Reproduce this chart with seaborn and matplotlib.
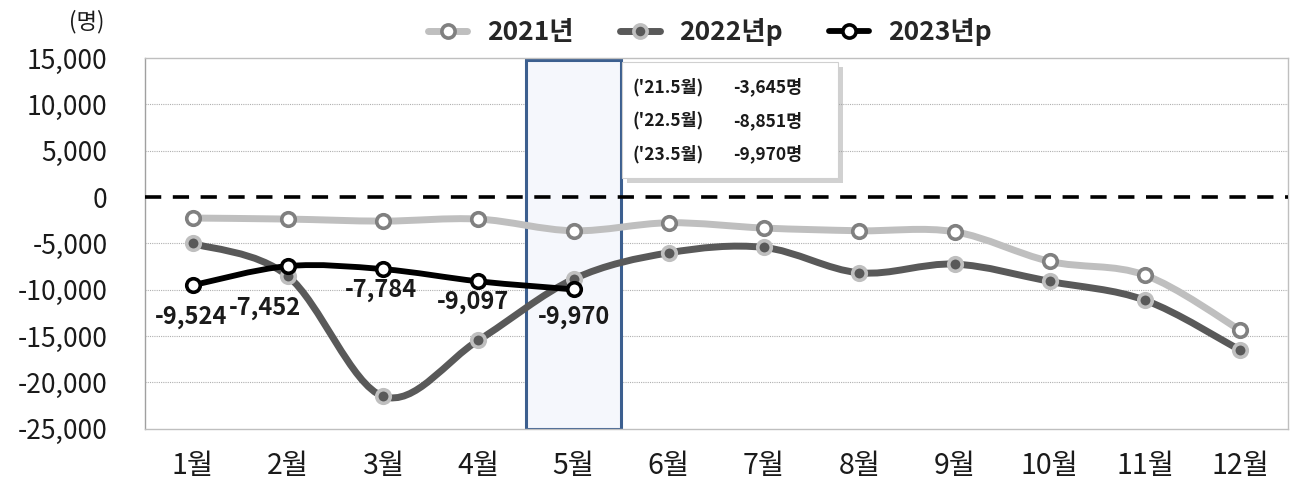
import numpy as np
import pandas as pd
import matplotlib
matplotlib.use("Agg")
import matplotlib.pyplot as plt
import seaborn as sns
from matplotlib.path import Path
from matplotlib.patches import PathPatch, Rectangle
from matplotlib.lines import Line2D

# ---------------- data ----------------
months = ["1월", "2월", "3월", "4월", "5월", "6월", "7월", "8월", "9월", "10월", "11월", "12월"]
y2021 = [-2270, -2380, -2600, -2380, -3645, -2780, -3350, -3640, -3750, -6950, -8430, -14380]
y2022 = [-5010, -8540, -21510, -15460, -8851, -6020, -5440, -8180, -7240, -9110, -11140, -16540]
y2023 = [-9524, -7452, -7784, -9097, -9970]
labels2023 = ["-9,524", "-7,452", "-7,784", "-9,097", "-9,970"]
series_names = ["2021년", "2022년p", "2023년p"]
yticks = [15000, 10000, 5000, 0, -5000, -10000, -15000, -20000, -25000]
ytick_labels = ["15,000", "10,000", "5,000", "0", "-5,000", "-10,000", "-15,000", "-20,000", "-25,000"]
note_left = ["('21.5월)", "('22.5월)", "('23.5월)"]
note_right = ["-3,645명", "-8,851명", "-9,970명"]

df21 = pd.DataFrame({"x": np.arange(len(y2021)), "y": y2021})
df22 = pd.DataFrame({"x": np.arange(len(y2022)), "y": y2022})
df23 = pd.DataFrame({"x": np.arange(len(y2023)), "y": y2023})

sns.set_theme(style="white")
plt.rcParams["font.family"] = ["Noto Sans CJK KR", "DejaVu Sans"]

fig = plt.figure(figsize=(12.9, 4.91), dpi=100)
ax = fig.add_axes([145 / 1290, 1 - 428.7 / 491, (1288 - 145) / 1290, (428.7 - 58) / 491])
ax.set_xlim(-0.5, 11.5)
ax.set_ylim(-25000, 15000)


def smooth_path(xs, ys):
    pts = np.column_stack([xs, ys]).astype(float)
    n = len(pts)
    verts = [pts[0]]
    codes = [Path.MOVETO]
    for i in range(n - 1):
        p0 = pts[i - 1] if i > 0 else pts[i]
        p1 = pts[i]
        p2 = pts[i + 1]
        p3 = pts[i + 2] if i + 2 < n else pts[i + 1]
        c1 = p1 + (p2 - p0) / 6.0
        c2 = p2 - (p3 - p1) / 6.0
        verts += [c1, c2, p2]
        codes += [Path.CURVE4] * 3
    return Path(verts, codes)


# highlight box for May
ax.add_patch(Rectangle((3.5, -25000), 1.0, 39800, facecolor="#F5F7FC",
                       edgecolor="#3C5F8F", linewidth=2.2, zorder=1.5))

# grid
for yv in [10000, 5000, -5000, -10000, -15000, -20000]:
    ax.axhline(yv, color="#B0B0B0", linewidth=0.8, linestyle=(0, (1, 1)), zorder=1)
ax.axhline(0, color="black", linewidth=2.6, linestyle=(0, (4.5, 3.2)), zorder=3)

styles = [
    (df21, "#BFBFBF", 5.0, "white", "#808080", 4),
    (df22, "#595959", 5.0, "#595959", "#BFBFBF", 5),
    (df23, "black", 4.2, "white", "black", 6),
]
for df, lc, lw, mfc, mec, z in styles:
    ax.add_patch(PathPatch(smooth_path(df["x"], df["y"]), fill=False, edgecolor=lc,
                           linewidth=lw, capstyle="round", joinstyle="round", zorder=z))
    sns.scatterplot(data=df, x="x", y="y", ax=ax, s=95, color=mfc, edgecolor=mec,
                    linewidth=2.6, zorder=z + 0.5, legend=False)

# 2023 data labels (offsets in points)
offsets = [(-1, -23), (-16.5, -30), (-1.5, -15), (-3.6, -15), (0, -20)]
for xi, yi, lab, off in zip(df23["x"], df23["y"], labels2023, offsets):
    ax.annotate(lab, (xi, yi), xytext=off, textcoords="offset points", ha="center", va="center",
                fontsize=17, fontweight="bold", color="#1a1a1a", zorder=8)

# note box
bx0, bx1 = (622 - 145) / 1143, (838 - 145) / 1143
by0, by1 = (428.7 - 178) / 370.7, (428.7 - 62) / 370.7
ax.add_patch(Rectangle((bx0 + 0.004, by0 - 0.013), bx1 - bx0, by1 - by0, transform=ax.transAxes,
                       facecolor="#9a9a9a", edgecolor="none", alpha=0.45, zorder=6))
ax.add_patch(Rectangle((bx0, by0), bx1 - bx0, by1 - by0, transform=ax.transAxes,
                       facecolor="white", edgecolor="#D0D0D0", linewidth=0.8, zorder=7))
for i, (a, b) in enumerate(zip(note_left, note_right)):
    yy = (428.7 - (87 + i * 33.5)) / 370.7
    ax.text((632 - 145) / 1143, yy, a, transform=ax.transAxes, fontsize=12.5, fontweight="bold",
            va="center", ha="left", color="#1a1a1a", zorder=8)
    ax.text((733 - 145) / 1143, yy, b, transform=ax.transAxes, fontsize=12.5, fontweight="bold",
            va="center", ha="left", color="#1a1a1a", zorder=8)

# axes styling
ax.set_xticks(np.arange(len(months)))
ax.set_xticklabels(months, fontsize=20.5, color="#1a1a1a")
ax.set_yticks(yticks)
ax.set_yticklabels(ytick_labels, fontsize=19, color="#1a1a1a")
ax.tick_params(axis="y", length=0, pad=27)
ax.tick_params(axis="x", length=0, pad=16)
ax.set_xlabel("")
ax.set_ylabel("")
for s in ax.spines.values():
    s.set_color("#BFBFBF")
    s.set_linewidth(1.0)
ax.spines["left"].set_color("#A0A0A0")

fig.text(87 / 1290, 1 - 22 / 491, "(명)", fontsize=16, ha="center", va="center", color="#1a1a1a")

handles = [
    Line2D([0], [0], color="#BFBFBF", lw=5, marker="o", markersize=9.5, markerfacecolor="white",
           markeredgecolor="#808080", markeredgewidth=2.6),
    Line2D([0], [0], color="#595959", lw=5, marker="o", markersize=9.5, markerfacecolor="#595959",
           markeredgecolor="#BFBFBF", markeredgewidth=2.6),
    Line2D([0], [0], color="black", lw=4.2, marker="o", markersize=9.5, markerfacecolor="white",
           markeredgecolor="black", markeredgewidth=2.6),
]
fig.legend(handles, series_names, loc="center", bbox_to_anchor=(710 / 1290, 1 - 32 / 491), ncol=3,
           frameon=False, prop={"size": 19, "weight": "bold"}, handlelength=1.5, columnspacing=1.75,
           handletextpad=0.75)

fig.savefig("out.png", dpi=100)
